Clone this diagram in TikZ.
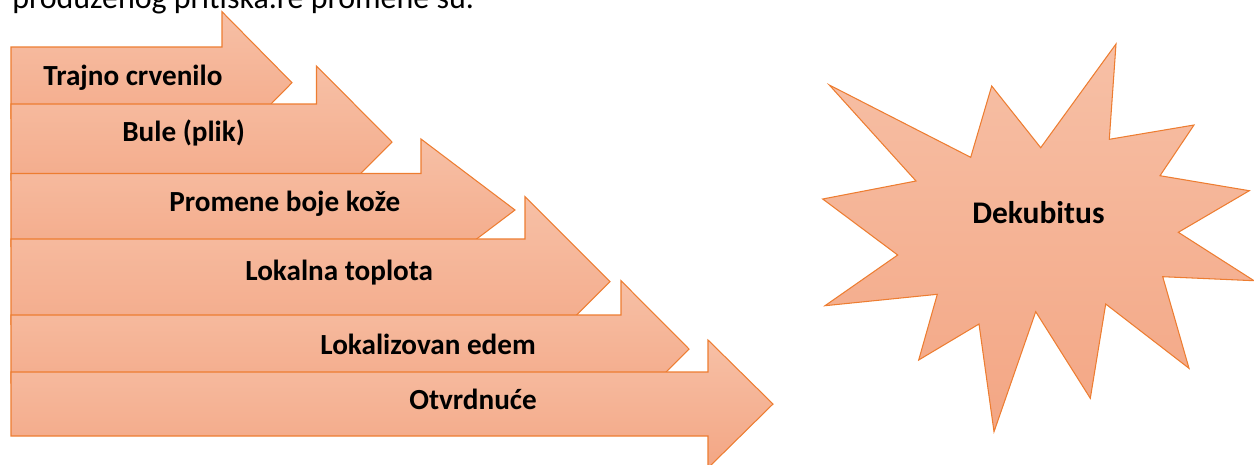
\documentclass[tikz,border=0pt]{standalone}
\usepackage{fontspec}
\setmainfont{Carlito}
\definecolor{arrline}{RGB}{237,125,49}
\definecolor{arrtop}{RGB}{247,192,166}
\definecolor{arrbot}{RGB}{243,166,132}
\tikzset{
  arrowshape/.style={draw=arrline,line width=0.6pt,line join=miter,top color=arrtop,bottom color=arrbot},
  lbl/.style={inner sep=0pt,anchor=base west,font=\fontsize{16.6}{20}\selectfont\bfseries},
}
\begin{document}
\begin{tikzpicture}[x=0.02cm,y=-0.02cm]
            \clip (0,0) rectangle (1254,464);
            % text line cut off at the top
            \node[inner sep=0pt,anchor=base west,font=\fontsize{18.2}{22}\selectfont] (intro) at (12,8) {produženog pritiska.re promene su.};
            % arrows: body top / middle / head half / head base / tip
            \foreach \t/\c/\h/\hb/\tp in {47/82.7/71/222/292, 104/142/76/316.5/392, 173.5/210/71/421/515, 239/281.7/85/525/610, 315/349/68.3/621/689, 372/404/64/708/773}
            \draw[arrowshape] (11,\t) -- (\hb,\t) -- (\hb,\c-\h) -- (\tp,\c) -- (\hb,\c+\h) -- (\hb,2*\c-\t) -- (11,2*\c-\t) -- cycle;
            \node[lbl] (trajno) at (43,85) {Trajno crvenilo};
            \node[lbl] (bule) at (122,141.7) {Bule (plik)};
            \node[lbl] (boja) at (169,211) {Promene boje kože};
            \node[lbl] (toplota) at (245,280) {Lokalna toplota};
            \node[lbl] (edem) at (320,354) {Lokalizovan edem};
            \node[lbl] (otvrd) at (409,409) {Otvrdnuće};
            % star
            \draw[arrowshape] plot coordinates {(829.3,85) (970.7,157.3) (991.7,86) (1040.7,147.7) (1116,44) (1109.3,139.3) (1194,125) (1160,175.7) (1249.3,190.7) (1178.3,232.3) (1254,280.7) (1162.7,276.7) (1189,368.3) (1105.7,304) (1090.3,398.3) (1035.7,311.7) (994,431.7) (979,324) (918.7,360) (937.3,294.3) (825,305.7) (897.7,255) (822.7,199) (916,181)} -- cycle;
            \node[inner sep=0pt,anchor=base west,font=\fontsize{17.9}{22}\selectfont\bfseries] (dekubitus) at (972,223.3) {Dekubitus};
\end{tikzpicture}
\end{document}
